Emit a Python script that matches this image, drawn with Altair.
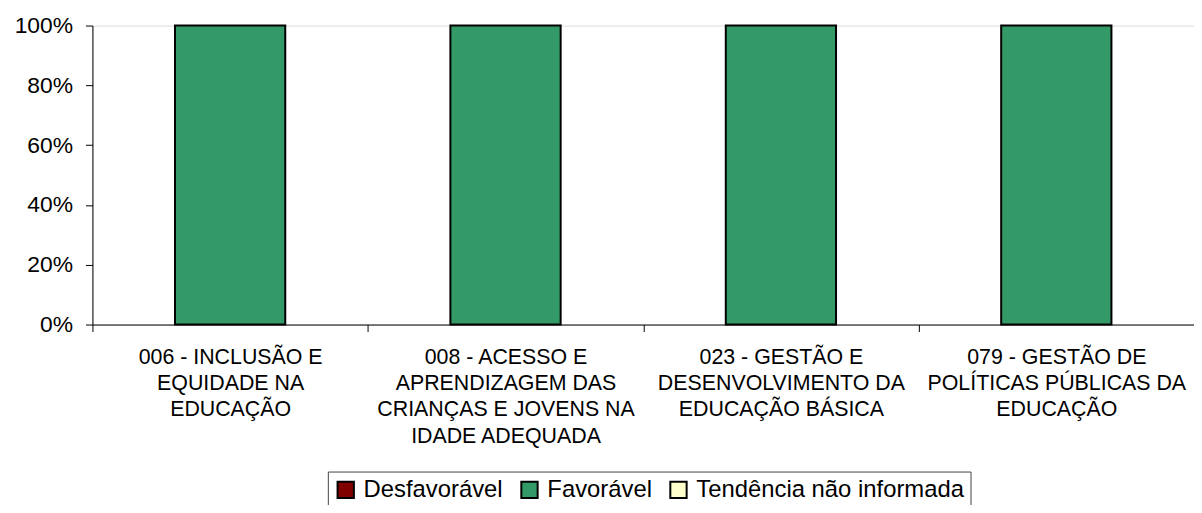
import altair as alt
import pandas as pd

categories = [
    "006 - INCLUSÃO E EQUIDADE NA EDUCAÇÃO",
    "008 - ACESSO E APRENDIZAGEM DAS CRIANÇAS E JOVENS NA IDADE ADEQUADA",
    "023 - GESTÃO E DESENVOLVIMENTO DA EDUCAÇÃO BÁSICA",
    "079 - GESTÃO DE POLÍTICAS PÚBLICAS DA EDUCAÇÃO",
]
label_lines = [
    ["006 - INCLUSÃO E", "EQUIDADE NA", "EDUCAÇÃO"],
    ["008 - ACESSO E", "APRENDIZAGEM DAS", "CRIANÇAS E JOVENS NA", "IDADE ADEQUADA"],
    ["023 - GESTÃO E", "DESENVOLVIMENTO DA", "EDUCAÇÃO BÁSICA"],
    ["079 - GESTÃO DE", "POLÍTICAS PÚBLICAS DA", "EDUCAÇÃO"],
]
series = ["Desfavorável", "Favorável", "Tendência não informada"]
colors = ["#800000", "#339966", "#FFFFCC"]
desfavoravel = [0.0, 0.0, 0.0, 0.0]
favoravel = [1.0, 1.0, 1.0, 1.0]
nao_informada = [0.0, 0.0, 0.0, 0.0]

rows = []
for i, c in enumerate(categories):
    for s, vals in zip(series, [desfavoravel, favoravel, nao_informada]):
        rows.append({"categoria": c, "serie": s, "ordem": series.index(s), "valor": vals[i]})
df = pd.DataFrame(rows)

def js_str(s):
    return "'" + s.replace("'", "\\'") + "'"

label_expr = ""
for c, lines in zip(categories, label_lines):
    arr = "[" + ",".join(js_str(l) for l in lines) + "]"
    label_expr += f"datum.value == {js_str(c)} ? {arr} : "
label_expr += "datum.label"

FONT = "Liberation Sans"

chart = (
    alt.Chart(df)
    .transform_filter("datum.valor > 0")
    .mark_bar(stroke="black", strokeWidth=2, size=111)
    .encode(
        x=alt.X(
            "categoria:N",
            sort=categories,
            title=None,
            scale=alt.Scale(paddingInner=0, paddingOuter=0),
            axis=alt.Axis(
                labelAngle=0,
                labelExpr=label_expr,
                labelFont=FONT,
                labelFontSize=21.5,
                labelColor="black",
                labelLineHeight=26.5,
                labelPadding=15,
                labelBaseline="top",
                tickBand="extent",
                tickColor="black",
                tickSize=7,
                domainColor="black",
                grid=False,
                labelLimit=400,
            ),
        ),
        y=alt.Y(
            "valor:Q",
            stack="zero",
            title=None,
            scale=alt.Scale(domain=[0, 1], nice=False),
            axis=alt.Axis(
                values=[0, 0.2, 0.4, 0.6, 0.8, 1.0],
                format=".0%",
                labelFont=FONT,
                labelFontSize=23,
                labelColor="black",
                labelPadding=13,
                tickColor="black",
                tickSize=7,
                domainColor="black",
                grid=False,
            ),
        ),
        color=alt.Color(
            "serie:N",
            scale=alt.Scale(domain=series, range=colors),
            title=None,
            legend=alt.Legend(
                orient="none",
                legendX=237,
                legendY=449,
                direction="horizontal",
                symbolType="square",
                symbolSize=270,
                symbolStrokeColor="black",
                symbolStrokeWidth=2,
                symbolOpacity=1,
                labelFont=FONT,
                labelFontSize=24,
                labelColor="black",
                labelOffset=6,
                labelLimit=500,
                columnPadding=13,
                strokeColor="#444444",
                padding=6,
            ),
        ),
        order=alt.Order("ordem:Q"),
    )
    .properties(
        width=1109,
        height=301,
        autosize=alt.AutoSizeParams(type="none"),
        padding={"left": 85, "top": 16, "right": 0, "bottom": 180},
    )
    .configure_view(strokeWidth=0)
    .configure(background="white")
)

chart.save("out.html", embed_options={"renderer": "svg", "actions": False})
